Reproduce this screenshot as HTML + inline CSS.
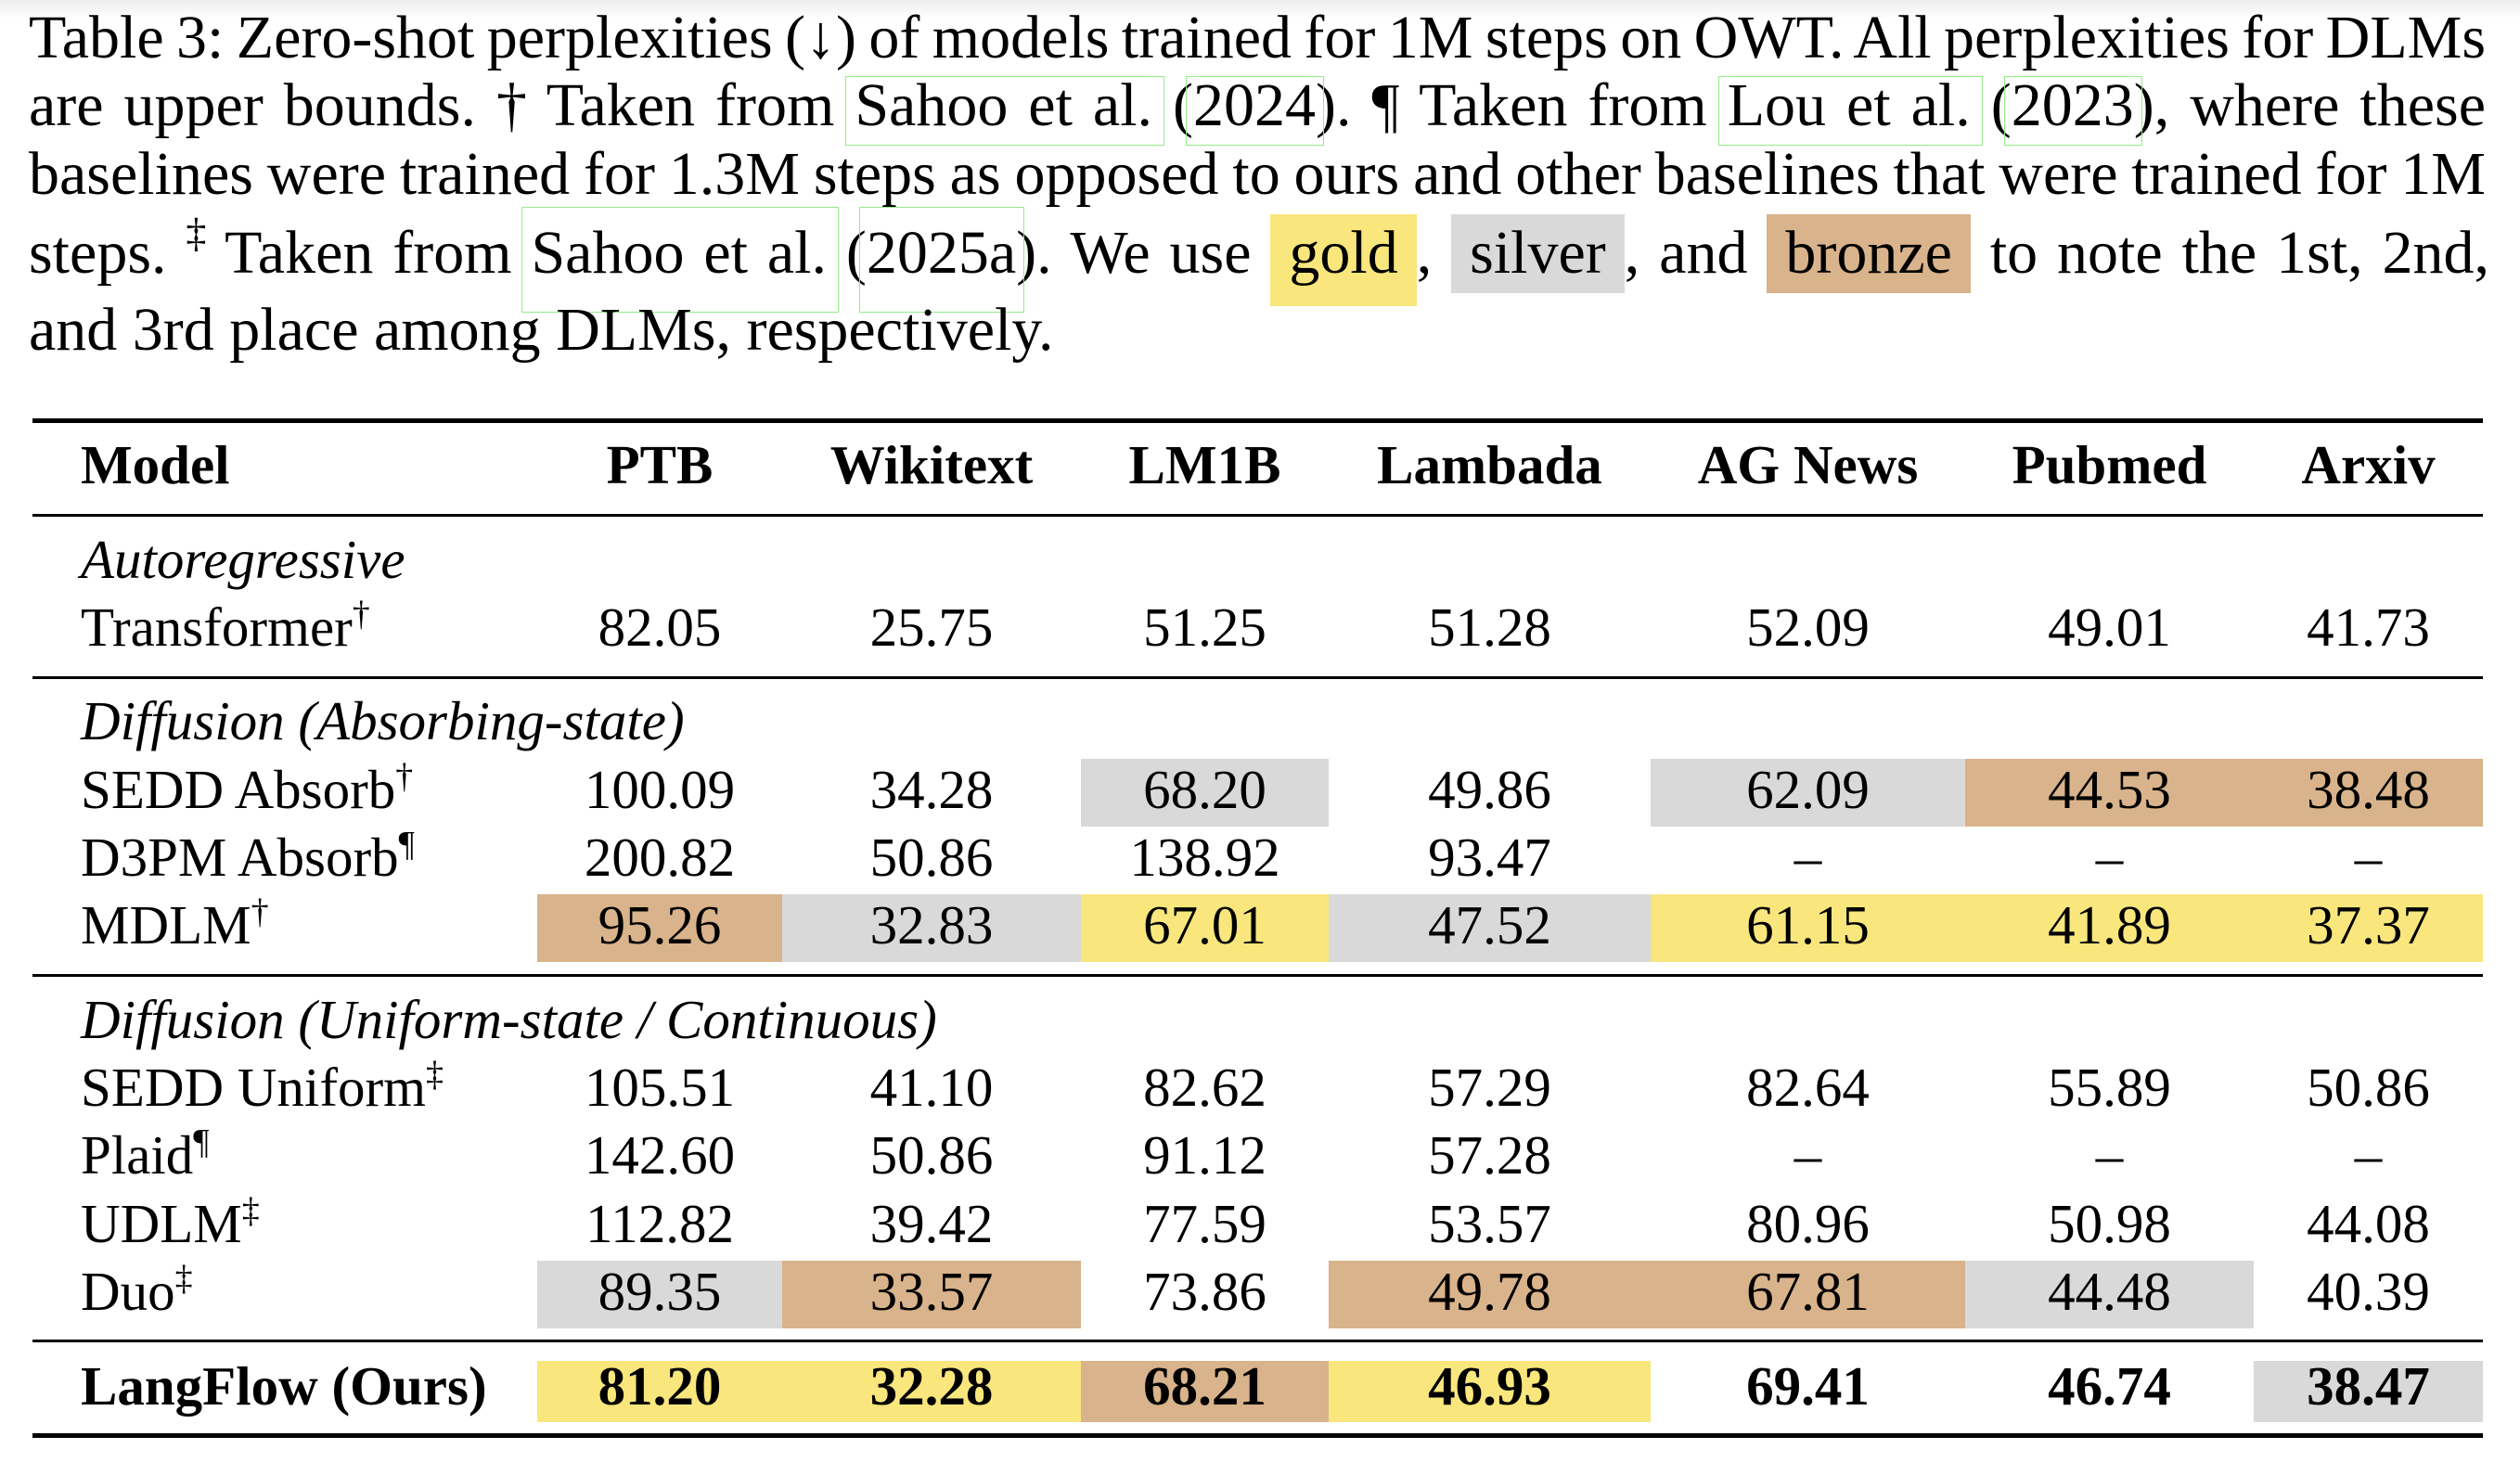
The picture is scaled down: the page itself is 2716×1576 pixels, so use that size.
<!DOCTYPE html>
<html><head><meta charset="utf-8">
<style>
html,body{margin:0;padding:0;background:#fff}
body{width:2716px;height:1576px;position:relative;overflow:hidden;font-family:"Liberation Serif","Times New Roman",serif;color:#000}
.topg{position:absolute;left:0;top:0;width:2716px;height:20px;background:linear-gradient(#ececec,#ffffff)}
.cl{position:absolute;left:31px;font-size:66px;line-height:66px;white-space:nowrap}
.lk{position:relative}
.lk::after{content:"";position:absolute;border:1px solid #93ec86;left:-8px;right:-9px;top:5px;bottom:-7px}
.nm::after{left:-10px;right:-13px}
.l4 .lk::after{top:-13px;bottom:-28px}
.hb{padding:5px 20px 7px 20px}
.hb.g{padding-bottom:21px}
.g{background:#f9e67d}
.s{background:#d9d9d9}
.b{background:#d9b38b}
.csup{font-size:44px;line-height:0;vertical-align:28px}
.rule{position:absolute;left:35px;width:2641px;background:#000}
.hl{position:absolute}
.tr{position:absolute;left:0;width:2716px;height:59px;font-size:59px;line-height:59px;white-space:nowrap}
.tr div{position:absolute;top:0;text-align:center}
.tr div.m{left:87px;text-align:left}
.c1{left:579px;width:264px}
.c2{left:843px;width:322px}
.c3{left:1165px;width:267px}
.c4{left:1432px;width:347px}
.c5{left:1779px;width:339px}
.c6{left:2118px;width:311px}
.c7{left:2429px;width:247px}
.sp{font-size:38px;line-height:0;vertical-align:22px}
.bd{font-weight:bold}
.it{font-style:italic}
</style></head>
<body>
<div class="topg"></div>

<div class="cl" id="l1" style="top:8px;word-spacing:-4px">Table 3: Zero-shot perplexities (↓) of models trained for 1M steps on OWT. All perplexities for DLMs</div>
<div class="cl" id="l2" style="top:81.4px">are upper bounds. † Taken from <span class="lk nm">Sahoo et al.</span> (<span class="lk">2024</span>). ¶ Taken from <span class="lk nm">Lou et al.</span> (<span class="lk">2023</span>), where these</div>
<div class="cl" id="l3" style="top:154.7px">baselines were trained for 1.3M steps as opposed to ours and other baselines that were trained for 1M</div>
<div class="cl l4" id="l4" style="top:239.7px">steps. <span class="csup">‡</span> Taken from <span class="lk nm">Sahoo et al.</span> (<span class="lk">2025a</span>). We use <span class="hb g">gold</span>, <span class="hb s">silver</span>, and <span class="hb b">bronze</span> to note the 1st, 2nd,</div>
<div class="cl" id="l5" style="top:323.2px">and 3rd place among DLMs, respectively.</div>

<!-- highlights -->
<div class="hl s c3" style="top:818px;height:73px"></div>
<div class="hl s c5" style="top:818px;height:73px"></div>
<div class="hl b c6" style="top:818px;height:73px"></div>
<div class="hl b c7" style="top:818px;height:73px"></div>

<div class="hl b c1" style="top:963.5px;height:73.5px"></div>
<div class="hl s c2" style="top:963.5px;height:73.5px"></div>
<div class="hl g c3" style="top:963.5px;height:73.5px"></div>
<div class="hl s c4" style="top:963.5px;height:73.5px"></div>
<div class="hl g c5" style="top:963.5px;height:73.5px"></div>
<div class="hl g c6" style="top:963.5px;height:73.5px"></div>
<div class="hl g c7" style="top:963.5px;height:73.5px"></div>

<div class="hl s c1" style="top:1358.5px;height:73px"></div>
<div class="hl b c2" style="top:1358.5px;height:73px"></div>
<div class="hl b c4" style="top:1358.5px;height:73px"></div>
<div class="hl b c5" style="top:1358.5px;height:73px"></div>
<div class="hl s c6" style="top:1358.5px;height:73px"></div>

<div class="hl g c1" style="top:1467px;height:66px"></div>
<div class="hl g c2" style="top:1467px;height:66px"></div>
<div class="hl b c3" style="top:1467px;height:66px"></div>
<div class="hl g c4" style="top:1467px;height:66px"></div>
<div class="hl s c7" style="top:1467px;height:66px"></div>

<!-- rules -->
<div class="rule" style="top:451px;height:5px"></div>
<div class="rule" style="top:554px;height:3px"></div>
<div class="rule" style="top:729px;height:3px"></div>
<div class="rule" style="top:1050px;height:3px"></div>
<div class="rule" style="top:1444px;height:3px"></div>
<div class="rule" style="top:1545px;height:5px"></div>

<!-- table rows -->
<div class="tr bd" style="top:471.9px">
  <div class="m">Model</div><div class="c1">PTB</div><div class="c2">Wikitext</div><div class="c3">LM1B</div><div class="c4">Lambada</div><div class="c5">AG News</div><div class="c6">Pubmed</div><div class="c7">Arxiv</div>
</div>

<div class="tr it" style="top:573.5px"><div class="m">Autoregressive</div></div>
<div class="tr" style="top:646.8px">
  <div class="m">Transformer<span class="sp">†</span></div><div class="c1">82.05</div><div class="c2">25.75</div><div class="c3">51.25</div><div class="c4">51.28</div><div class="c5">52.09</div><div class="c6">49.01</div><div class="c7">41.73</div>
</div>

<div class="tr it" style="top:747.5px"><div class="m">Diffusion (Absorbing-state)</div></div>
<div class="tr" style="top:822.1px">
  <div class="m">SEDD Absorb<span class="sp">†</span></div><div class="c1">100.09</div><div class="c2">34.28</div><div class="c3">68.20</div><div class="c4">49.86</div><div class="c5">62.09</div><div class="c6">44.53</div><div class="c7">38.48</div>
</div>
<div class="tr" style="top:894.8px">
  <div class="m">D3PM Absorb<span class="sp">¶</span></div><div class="c1">200.82</div><div class="c2">50.86</div><div class="c3">138.92</div><div class="c4">93.47</div><div class="c5">–</div><div class="c6">–</div><div class="c7">–</div>
</div>
<div class="tr" style="top:967.5px">
  <div class="m">MDLM<span class="sp">†</span></div><div class="c1">95.26</div><div class="c2">32.83</div><div class="c3">67.01</div><div class="c4">47.52</div><div class="c5">61.15</div><div class="c6">41.89</div><div class="c7">37.37</div>
</div>

<div class="tr it" style="top:1069.5px"><div class="m">Diffusion (Uniform-state / Continuous)</div></div>
<div class="tr" style="top:1143.1px">
  <div class="m">SEDD Uniform<span class="sp">‡</span></div><div class="c1">105.51</div><div class="c2">41.10</div><div class="c3">82.62</div><div class="c4">57.29</div><div class="c5">82.64</div><div class="c6">55.89</div><div class="c7">50.86</div>
</div>
<div class="tr" style="top:1216.2px">
  <div class="m">Plaid<span class="sp">¶</span></div><div class="c1">142.60</div><div class="c2">50.86</div><div class="c3">91.12</div><div class="c4">57.28</div><div class="c5">–</div><div class="c6">–</div><div class="c7">–</div>
</div>
<div class="tr" style="top:1289.5px">
  <div class="m">UDLM<span class="sp">‡</span></div><div class="c1">112.82</div><div class="c2">39.42</div><div class="c3">77.59</div><div class="c4">53.57</div><div class="c5">80.96</div><div class="c6">50.98</div><div class="c7">44.08</div>
</div>
<div class="tr" style="top:1362.5px">
  <div class="m">Duo<span class="sp">‡</span></div><div class="c1">89.35</div><div class="c2">33.57</div><div class="c3">73.86</div><div class="c4">49.78</div><div class="c5">67.81</div><div class="c6">44.48</div><div class="c7">40.39</div>
</div>

<div class="tr bd" style="top:1464.5px">
  <div class="m">LangFlow (Ours)</div><div class="c1">81.20</div><div class="c2">32.28</div><div class="c3">68.21</div><div class="c4">46.93</div><div class="c5">69.41</div><div class="c6">46.74</div><div class="c7">38.47</div>
</div>

<script>
function just(){
  var T={l1:2648,l2:2648,l3:2648,l4:2652};
  for(var id in T){
    var el=document.getElementById(id);
    if(!el)continue;
    el.style.wordSpacing='0px';
    var w=el.getBoundingClientRect().width;
    var n=(el.textContent.match(/ /g)||[]).length;
    if(n>0)el.style.wordSpacing=((T[id]-w)/n)+'px';
  }
}
just();
if(document.fonts&&document.fonts.ready){document.fonts.ready.then(just);}
</script>
</body></html>
